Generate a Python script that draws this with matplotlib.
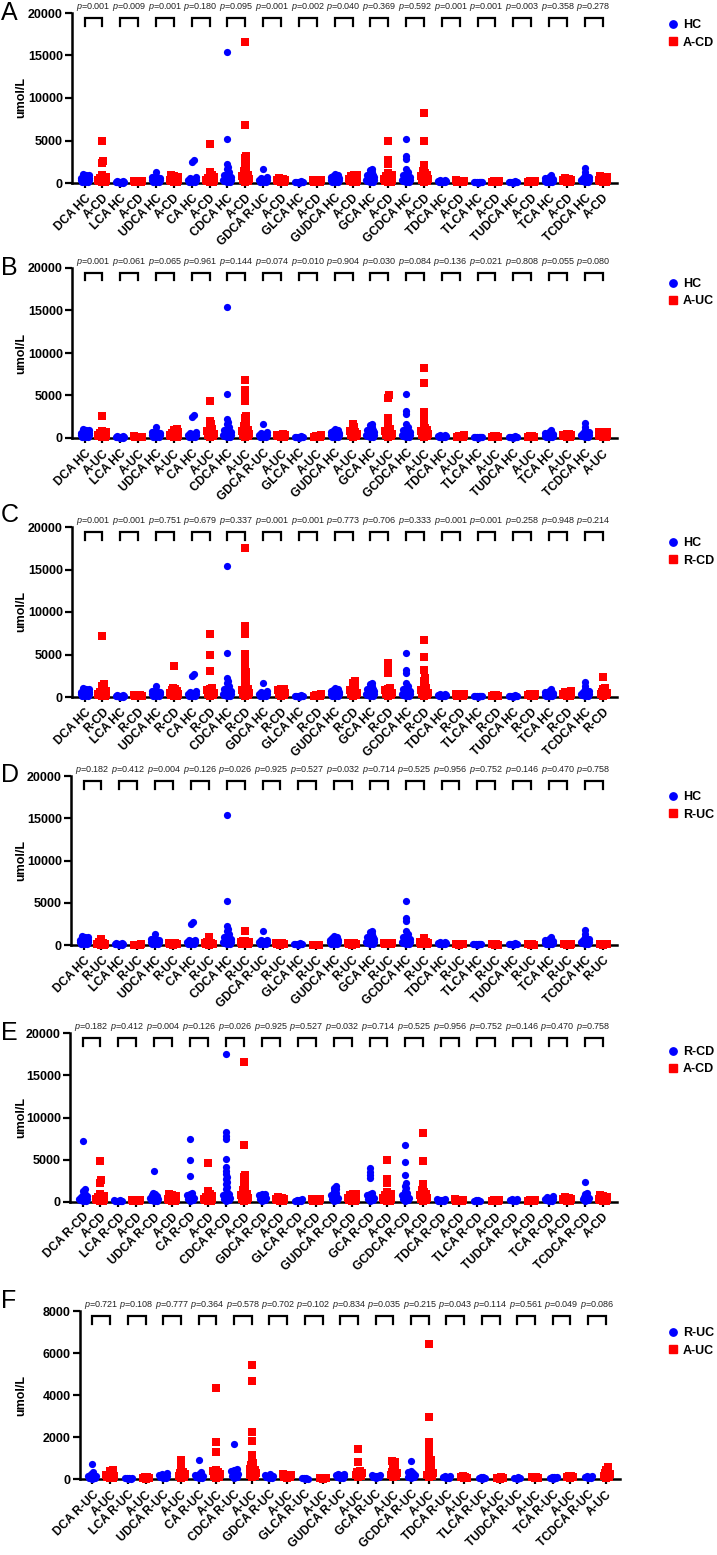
import numpy as np
import matplotlib
matplotlib.use('Agg')
import matplotlib.pyplot as plt
import matplotlib.transforms as mtransforms
from matplotlib.lines import Line2D

plt.rcParams['font.family'] = ['Liberation Sans', 'DejaVu Sans']
plt.rcParams['mathtext.fontset'] = 'custom'
plt.rcParams['mathtext.rm'] = 'Liberation Sans'
plt.rcParams['mathtext.it'] = 'Liberation Sans:italic'

W, H = 717, 1555
BLUE = '#0000ff'
RED = '#ff0000'

ACIDS = ['DCA', 'LCA', 'UDCA', 'CA', 'CDCA', 'GDCA', 'GLCA', 'GUDCA',
         'GCA', 'GCDCA', 'TDCA', 'TLCA', 'TUDCA', 'TCA', 'TCDCA']

# values (umol/L), one list per bile acid in ACIDS order
HC = [
    [1100, 1000, 900, 800, 700, 600, 550, 500, 450, 400, 350, 300, 250, 200, 150, 100, 60],
    [200, 180, 160, 150, 130, 120, 100, 90, 80, 60, 50, 40],
    [1250, 800, 700, 600, 500, 450, 400, 350, 300, 250, 200, 150, 100, 60],
    [2700, 2450, 650, 550, 450, 400, 350, 300, 250, 200, 150, 100, 70],
    [15400, 5200, 2200, 1900, 1600, 1300, 1100, 900, 800, 700, 600, 500, 450, 400, 350, 300, 250, 200, 150, 100],
    [1650, 650, 550, 450, 400, 350, 300, 250, 200, 150, 100, 60],
    [200, 170, 150, 130, 110, 90, 70, 50],
    [1050, 950, 850, 750, 650, 550, 500, 450, 400, 350, 300, 250, 200, 150, 100, 60],
    [1700, 1500, 1300, 1100, 1000, 900, 800, 700, 600, 500, 450, 400, 350, 300, 250, 200, 150, 100],
    [5200, 3200, 2800, 1700, 1300, 1100, 900, 800, 700, 600, 500, 450, 400, 350, 300, 250, 200, 150, 100],
    [350, 300, 250, 220, 200, 180, 150, 120, 100, 80, 60],
    [150, 130, 110, 100, 90, 80, 60, 50],
    [200, 170, 150, 130, 110, 90, 70, 50],
    [950, 700, 600, 500, 400, 350, 300, 250, 200, 150, 120, 100, 80, 60],
    [1750, 1350, 1000, 700, 600, 500, 450, 400, 350, 300, 250, 200, 150, 100],
]

A_CD = [
    [4900, 2600, 2300, 900, 700, 600, 500, 450, 400, 350, 300, 250, 200, 150, 100],
    [250, 200, 180, 150, 120, 100, 80, 60],
    [950, 850, 700, 600, 500, 400, 350, 300, 250, 200, 150, 100],
    [4600, 1300, 1000, 800, 700, 600, 500, 400, 350, 300, 250, 200, 150, 100],
    [16600, 6800, 3200, 2900, 2600, 2300, 2000, 1700, 1400, 1200, 1000, 900, 800, 700, 600, 500, 400, 300, 200, 100],
    [550, 450, 400, 350, 300, 250, 200, 150, 100],
    [350, 300, 250, 200, 150, 100, 80],
    [1000, 900, 800, 700, 600, 500, 400, 300, 250, 200, 150, 100],
    [5000, 2700, 2200, 1200, 1000, 900, 800, 700, 600, 500, 400, 300, 250, 200, 150, 100],
    [8200, 4900, 2100, 1400, 1200, 1000, 900, 800, 700, 600, 500, 400, 300, 200, 100],
    [300, 250, 200, 150, 120, 100, 80],
    [250, 200, 150, 120, 100, 80],
    [250, 200, 150, 120, 100, 80],
    [550, 450, 400, 350, 300, 250, 200, 150, 100],
    [850, 750, 650, 550, 450, 400, 350, 300, 250, 200, 150, 100],
]

A_UC = [
    [2600, 850, 700, 600, 500, 450, 400, 350, 300, 250, 200, 150, 100],
    [200, 170, 150, 120, 100, 80, 60],
    [1050, 900, 750, 600, 500, 400, 350, 300, 250, 200, 150, 100],
    [4400, 2000, 1700, 1400, 1100, 900, 800, 700, 600, 500, 400, 300, 200, 100],
    [6800, 5600, 5200, 4800, 4400, 2600, 2300, 2000, 1700, 1400, 1200, 1000, 900, 800, 700, 600, 500, 400, 300, 200, 100],
    [450, 400, 350, 300, 250, 200, 150, 100],
    [300, 250, 200, 150, 100, 80],
    [1600, 1300, 1000, 800, 700, 600, 500, 400, 300, 200, 100],
    [5000, 4700, 2300, 1800, 1300, 1100, 900, 800, 700, 600, 500, 400, 300, 200, 100],
    [8200, 6500, 3000, 2300, 1900, 1500, 1200, 1000, 900, 800, 700, 600, 500, 400, 300, 200, 100],
    [300, 250, 200, 150, 100, 80],
    [250, 200, 150, 100, 80],
    [250, 200, 150, 100, 80],
    [500, 450, 400, 350, 300, 250, 200, 150, 100],
    [700, 650, 600, 500, 450, 400, 350, 300, 250, 200, 150, 100],
]

R_CD = [
    [7200, 1500, 1300, 1000, 800, 700, 600, 500, 400, 350, 300, 250, 200, 150, 100],
    [250, 200, 170, 150, 120, 100, 80, 60],
    [3700, 1100, 900, 800, 700, 600, 500, 400, 300, 250, 200, 150, 100],
    [7400, 5000, 3100, 1100, 900, 800, 700, 600, 500, 400, 300, 200, 100],
    [17500, 8300, 7800, 7400, 5100, 4100, 3700, 3300, 3000, 2700, 2400, 2100, 1800, 1500, 1200, 1000, 900, 800, 700, 600, 500, 400, 300, 200, 100],
    [1000, 900, 800, 700, 600, 500, 400, 300, 200, 100],
    [300, 250, 200, 150, 100, 80],
    [1900, 1700, 1500, 1300, 1100, 900, 800, 700, 600, 500, 400, 300, 200, 100],
    [4000, 3600, 3200, 2800, 1100, 900, 800, 700, 600, 500, 400, 300, 200, 100],
    [6700, 4700, 3200, 2200, 1900, 1600, 1300, 1100, 900, 800, 700, 600, 500, 400, 300, 200, 100],
    [350, 300, 250, 200, 150, 100, 80],
    [250, 200, 150, 100, 80],
    [350, 300, 250, 200, 150, 100],
    [700, 600, 500, 400, 350, 300, 250, 200, 150, 100],
    [2400, 1100, 900, 700, 600, 500, 400, 300, 200, 100],
]

R_UC = [
    [700, 350, 250, 200, 150, 120, 100, 80, 60, 40, 20],
    [60, 50, 40, 30, 20, 10],
    [280, 250, 200, 180, 150, 120, 100, 80, 60, 40],
    [900, 350, 250, 200, 150, 120, 100, 80, 60, 40],
    [1650, 500, 450, 400, 350, 300, 250, 200, 150, 100, 60],
    [220, 180, 150, 120, 100, 80, 60, 40],
    [50, 40, 30, 20, 10],
    [250, 220, 200, 180, 150, 120, 100, 80, 60, 40],
    [200, 180, 150, 120, 100, 80, 60],
    [850, 400, 350, 300, 250, 200, 150, 100, 80, 60],
    [150, 120, 100, 80, 60, 40],
    [100, 80, 60, 40, 20],
    [80, 60, 40, 20],
    [100, 90, 80, 60, 40, 20],
    [150, 120, 100, 80, 60, 40],
]

# A-UC values as they appear in panel F
A_UC_F = [
    [450, 380, 300, 250, 200, 150, 120, 100, 80, 60, 40],
    [100, 80, 60, 40, 20],
    [900, 600, 450, 350, 300, 250, 200, 150, 100, 60],
    [4350, 1750, 1300, 450, 400, 350, 300, 250, 200, 150, 100, 60],
    [5450, 4650, 2250, 1800, 1150, 1000, 750, 650, 550, 500, 450, 400, 300, 250, 200, 150, 100],
    [220, 200, 150, 120, 100, 80, 60],
    [50, 40, 30, 20],
    [1420, 800, 400, 350, 300, 250, 200, 150, 100],
    [850, 800, 700, 600, 500, 400, 350, 300, 250, 200, 150, 100],
    [6450, 2950, 1750, 1400, 1200, 1000, 900, 800, 700, 600, 500, 400, 300, 250, 200, 150, 100],
    [120, 100, 80, 60, 40],
    [80, 60, 40, 20],
    [100, 80, 60, 40],
    [150, 120, 100, 80, 60],
    [550, 450, 350, 300, 250, 200, 150, 100, 60],
]

P_A = ['0.001', '0.009', '0.001', '0.180', '0.095', '0.001', '0.002', '0.040',
       '0.369', '0.592', '0.001', '0.001', '0.003', '0.358', '0.278']
P_B = ['0.001', '0.061', '0.065', '0.961', '0.144', '0.074', '0.010', '0.904',
       '0.030', '0.084', '0.136', '0.021', '0.808', '0.055', '0.080']
P_C = ['0.001', '0.001', '0.751', '0.679', '0.337', '0.001', '0.001', '0.773',
       '0.706', '0.333', '0.001', '0.001', '0.258', '0.948', '0.214']
P_D = ['0.182', '0.412', '0.004', '0.126', '0.026', '0.925', '0.527', '0.032',
       '0.714', '0.525', '0.956', '0.752', '0.146', '0.470', '0.758']
P_E = P_D
P_F = ['0.721', '0.108', '0.777', '0.364', '0.578', '0.702', '0.102', '0.834',
       '0.035', '0.215', '0.043', '0.114', '0.561', '0.049', '0.086']

YTICKS_BIG = [0, 5000, 10000, 15000, 20000]
YTICKS_F = [0, 2000, 4000, 6000, 8000]

# letter, first group, first data, second group, second data, p values,
# tag printed after GDCA, y ticks
PANELS = [
    ('A', 'HC', HC, 'A-CD', A_CD, P_A, 'R-UC', YTICKS_BIG),
    ('B', 'HC', HC, 'A-UC', A_UC, P_B, 'R-UC', YTICKS_BIG),
    ('C', 'HC', HC, 'R-CD', R_CD, P_C, 'HC', YTICKS_BIG),
    ('D', 'HC', HC, 'R-UC', R_UC, P_D, 'R-UC', YTICKS_BIG),
    ('E', 'R-CD', R_CD, 'A-CD', A_CD, P_E, 'R-CD', YTICKS_BIG),
    ('F', 'R-UC', R_UC, 'A-UC', A_UC_F, P_F, 'R-UC', YTICKS_F),
]

# axes box in pixels: left, top, bottom(zero line), right ; plus letter baseline and legend drop
BOXES = [
    (72, 13, 183, 617, 20, 12),
    (72, 268, 438, 617, 275, 16),
    (72, 527, 697, 617, 522, 16),
    (71, 776, 945, 617, 782, 21),
    (70, 1033, 1202, 617, 1040, 19),
    (80, 1311, 1479, 620, 1308, 22),
]
XLIM = (-0.7, 29.8)


''' place points of one column side by side like a scatter dot plot '''
def swarm_offsets(values, x_px, y_px, diam=2.6, spread=4.0):
    vals = np.asarray(values, float)
    cands = [0.0]
    for k in np.arange(1.0, spread + 0.01, 1.0):
        cands += [k, -k]
    placed = []
    offs = np.zeros(len(vals))
    for idx in np.argsort(vals):
        y = vals[idx] * y_px
        best, best_d = 0.0, -1.0
        for dx in cands:
            d = min([np.hypot(dx - px, y - py) for px, py in placed], default=99.0)
            if d >= diam:
                best = dx
                break
            if d > best_d:
                best, best_d = dx, d
        placed.append((best, y))
        offs[idx] = best / x_px
    return offs


def tick_labels(first, second, gdca_tag):
    labels = []
    for acid in ACIDS:
        tag = gdca_tag if acid == 'GDCA' else first
        labels.append(acid + ' ' + tag)
        labels.append(second)
    return labels


def draw_panel(fig, spec, box):
    letter, g1, d1, g2, d2, pvals, gdca_tag, yticks = spec
    left, top, bottom, right, letter_y, legend_drop = box
    ax = fig.add_axes([left / W, 1 - bottom / H, (right - left) / W, (bottom - top) / H])
    ymax = yticks[-1]
    ax.set_xlim(*XLIM)
    ax.set_ylim(0, ymax)
    x_px = (right - left) / (XLIM[1] - XLIM[0])
    y_px = (bottom - top) / ymax

    for i in range(len(ACIDS)):
        for j, (data, color, marker) in enumerate([(d1, BLUE, 'o'), (d2, RED, 's')]):
            vals = np.asarray(data[i], float)
            pos = 2 * i + j
            offs = swarm_offsets(vals, x_px, y_px)
            ax.scatter(pos + offs, vals, s=27, marker=marker, color=color,
                       linewidths=0, zorder=3, clip_on=False)

    # brackets and p values
    trans = mtransforms.blended_transform_factory(ax.transData, ax.transAxes)
    b_top = 1 - 5 / (bottom - top)
    b_bot = 1 - 12.5 / (bottom - top)
    for i, p in enumerate(pvals):
        x0, x1 = 2 * i, 2 * i + 1
        ax.plot([x0, x0, x1, x1], [b_bot, b_top, b_top, b_bot], color='black',
                lw=1.6, transform=trans, clip_on=False, solid_joinstyle='miter')
        ax.text(x0 + 0.5, 1.0, r'$p$=' + p, transform=trans, ha='center', va='bottom',
                fontsize=6.5, color='#222222')

    ax.set_xticks(np.arange(2 * len(ACIDS)))
    ax.set_xticklabels(tick_labels(g1, g2, gdca_tag), rotation=45, ha='right',
                       va='top', rotation_mode='anchor', fontsize=8.6, fontweight='bold')
    ax.set_yticks(yticks)
    ax.set_yticklabels([str(t) for t in yticks], fontsize=9, fontweight='bold')
    ax.tick_params(axis='y', width=1.6, length=5, pad=1.5)
    ax.tick_params(axis='x', width=1.6, length=3.5, pad=3)
    for side in ['top', 'right']:
        ax.spines[side].set_visible(False)
    for side in ['left', 'bottom']:
        ax.spines[side].set_linewidth(1.8)
    ax.set_ylabel('umol/L', fontsize=9, fontweight='bold')
    ax.yaxis.set_label_coords((27 - left) / (right - left), 0.5)

    handles = [Line2D([], [], ls='none', marker='o', color=BLUE, markersize=5.3, label=g1),
               Line2D([], [], ls='none', marker='s', color=RED, markersize=5.3, label=g2)]
    leg_top = 1 - (legend_drop - 6) / (bottom - top)
    ax.legend(handles=handles, loc='upper left', frameon=False,
              bbox_to_anchor=((668 - left) / (right - left), leg_top),
              borderpad=0, borderaxespad=0, handlelength=0.8, handletextpad=0.4,
              labelspacing=0.44, prop={'weight': 'bold', 'size': 9})

    fig.text(1 / W, 1 - letter_y / H, letter, fontsize=18, ha='left', va='baseline')


def main():
    fig = plt.figure(figsize=(W / 100, H / 100), dpi=100)
    for spec, box in zip(PANELS, BOXES):
        draw_panel(fig, spec, box)
    fig.savefig('out.png', dpi=100)


if __name__ == '__main__':
    main()
